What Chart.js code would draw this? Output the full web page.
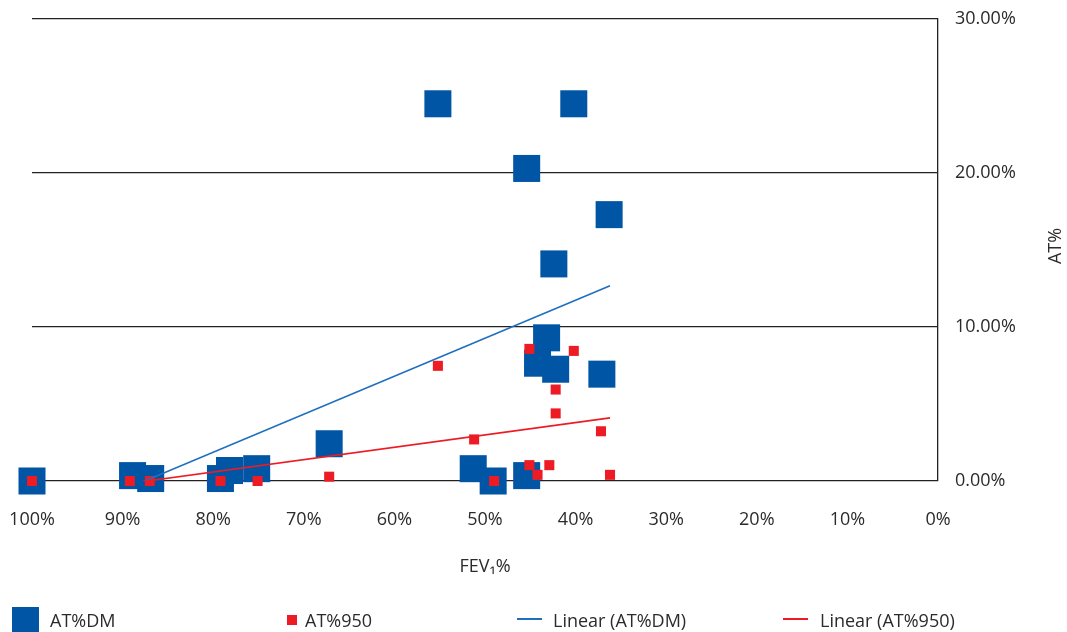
<!DOCTYPE html>
<html>
<head>
<meta charset="utf-8">
<script src="https://cdn.jsdelivr.net/npm/chart.js@4.4.1/dist/chart.umd.min.js"></script>
<style>
  html, body { margin: 0; padding: 0; background: #fff; overflow: hidden; }
  #wrap { position: relative; width: 1067px; height: 632px; }
  .lg { position: absolute; font: 18px "Open Sans", sans-serif; color: #2b2b2b; line-height: 24px; }
  .sw { position: absolute; }
</style>
</head>
<body>
<div id="wrap">
  <canvas id="chart" width="1067" height="632"></canvas>
  <div class="sw" style="left:12px;top:607px;width:27px;height:27px;background:#0055a5"></div>
  <div class="lg" style="left:50px;top:608px">AT%DM</div>
  <div class="sw" style="left:287px;top:615px;width:10px;height:10px;background:#ed1c24"></div>
  <div class="lg" style="left:305px;top:608px">AT%950</div>
  <div class="sw" style="left:517px;top:618px;width:25px;height:2px;background:#1f6fc0"></div>
  <div class="lg" style="left:553px;top:608px">Linear (AT%DM)</div>
  <div class="sw" style="left:783px;top:618px;width:25px;height:2px;background:#ed1c24"></div>
  <div class="lg" style="left:820px;top:608px">Linear (AT%950)</div>
</div>
<script>
// FEV1% (x) and AT% (y)
const dmX = [100, 88.9, 86.9, 79.2, 78.2, 75.2, 67.2, 51.3, 49.1, 45.4, 43.2, 44.2, 42.2, 37.1, 55.2, 40.2, 45.4, 36.3, 42.4];
const dmY = [0, 0.35, 0.16, 0.16, 0.68, 0.8, 2.42, 0.8, 0, 0.35, 9.3, 7.65, 7.26, 6.94, 24.5, 24.5, 20.3, 17.3, 14.1];

const r950X = [100, 89.2, 87.0, 79.2, 75.1, 67.2, 55.2, 51.2, 49.0, 45.1, 44.2, 42.9, 45.1, 40.2, 42.2, 42.2, 37.2, 36.2];
const r950Y = [0, 0, 0, 0, 0, 0.28, 7.48, 2.7, 0, 1.03, 0.4, 1.03, 8.58, 8.45, 5.94, 4.39, 3.23, 0.4];

// trendline end points (left part falls below 0 and is clipped)
const dmTrendX = [100, 36.2];
const dmTrendY = [-3.07, 12.68];
const r950TrendX = [100, 36.2];
const r950TrendY = [-1.02, 4.10];

const xTicks = [0, 10, 20, 30, 40, 50, 60, 70, 80, 90, 100];
const yTicks = [0, 10, 20, 30];

const pts = (xs, ys) => xs.map((x, i) => ({ x: x, y: ys[i] }));
const FONT = '"Open Sans", sans-serif';
const TEXT = "#2b2b2b";

// y title reads bottom-to-top, so it is drawn here
const yTitle = {
  id: "yTitle",
  afterDraw(chart) {
    const ctx = chart.ctx;
    ctx.save();
    ctx.translate(1056, 246);
    ctx.rotate(-Math.PI / 2);
    ctx.font = "18px " + FONT;
    ctx.fillStyle = TEXT;
    ctx.textAlign = "center";
    ctx.textBaseline = "middle";
    ctx.fillText("AT%", 0, 0);
    ctx.restore();
  }
};

new Chart(document.getElementById("chart"), {
  type: "scatter",
  data: {
    datasets: [
      {
        label: "AT%DM",
        data: pts(dmX, dmY),
        pointStyle: "rect",
        pointRadius: 19.1,
        pointBackgroundColor: "#0055a5",
        pointBorderWidth: 0,
        clip: false,
        order: 4
      },
      {
        label: "AT%950",
        data: pts(r950X, r950Y),
        pointStyle: "rect",
        pointRadius: 7.1,
        pointBackgroundColor: "#ed1c24",
        pointBorderWidth: 0,
        clip: false,
        order: 3
      },
      {
        label: "Linear (AT%DM)",
        data: pts(dmTrendX, dmTrendY),
        showLine: true,
        borderColor: "#1f6fc0",
        borderWidth: 1.6,
        pointRadius: 0,
        clip: 0,
        order: 2
      },
      {
        label: "Linear (AT%950)",
        data: pts(r950TrendX, r950TrendY),
        showLine: true,
        borderColor: "#ed1c24",
        borderWidth: 1.6,
        pointRadius: 0,
        clip: 0,
        order: 1
      }
    ]
  },
  options: {
    responsive: false,
    animation: false,
    layout: { padding: { left: 32, top: 16, right: 0, bottom: 0 } },
    plugins: { legend: { display: false }, tooltip: { enabled: false } },
    scales: {
      x: {
        type: "linear",
        reverse: true,
        min: 0,
        max: 100,
        afterBuildTicks: (s) => { s.ticks = xTicks.map(v => ({ value: v })); },
        afterFit: (s) => { s.height = 151; s.paddingLeft = 0; s.paddingRight = 0; },
        grid: { display: false, drawTicks: false },
        border: { display: false },
        ticks: {
          padding: 28,
          color: TEXT,
          font: { family: FONT, size: 18 },
          callback: (v) => v + "%"
        },
        title: {
          display: true,
          text: "FEV\u2081%",
          color: TEXT,
          font: { family: FONT, size: 18 },
          padding: { bottom: 54 }
        }
      },
      y: {
        position: "right",
        min: 0,
        max: 30,
        afterBuildTicks: (s) => { s.ticks = yTicks.map(v => ({ value: v })); },
        afterFit: (s) => { s.width = 129; s.paddingTop = 0; s.paddingBottom = 0; },
        grid: { color: "#222", lineWidth: 1.3, drawTicks: false },
        border: { display: true, color: "#222", width: 1.3 },
        ticks: {
          padding: 17,
          color: TEXT,
          font: { family: FONT, size: 18 },
          callback: (v) => v.toFixed(2) + "%"
        }
      }
    }
  },
  plugins: [yTitle]
});
</script>
</body>
</html>
